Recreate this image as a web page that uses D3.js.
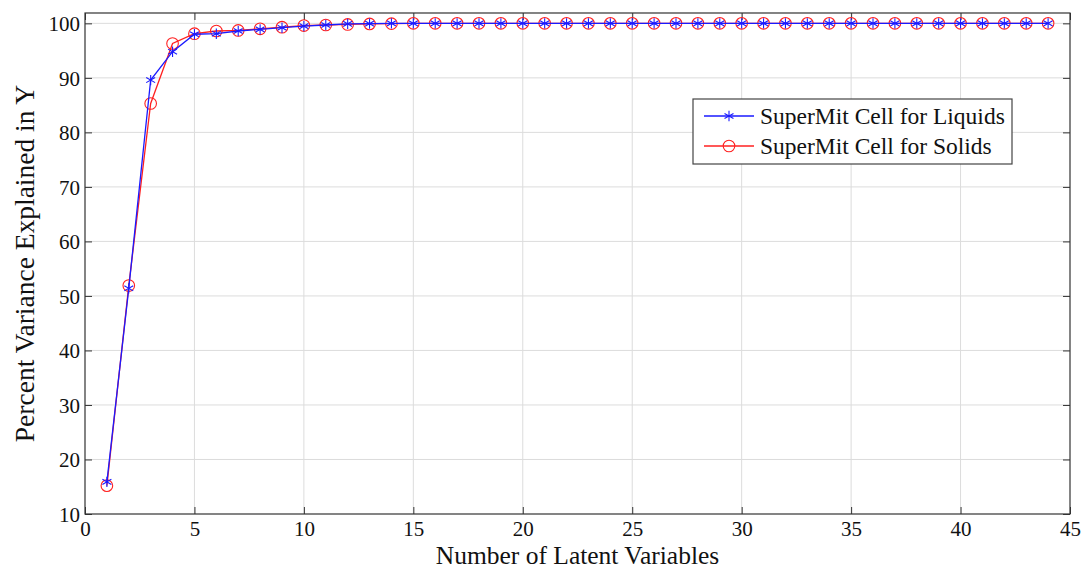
<!DOCTYPE html>
<html>
<head>
  <meta charset="utf-8">
  <script src="https://cdn.jsdelivr.net/npm/d3@7"></script>
  <style type="text/css">
    body {
      margin: 0;
      background: #fff;
      font-family: "Liberation Serif", "Times New Roman", serif;
    }
    .grid line {
      stroke: #dcdcdc;
      stroke-width: 1;
    }
  </style>
</head>
<body>
  <script type="text/javascript">

  // number of latent variables 1..44
  const components = d3.range(1, 45);
  const liquids = [15.9, 51.4, 89.6, 94.8, 98.0, 98.1, 98.6, 98.9, 99.2, 99.5, 99.7, 99.9,
    99.95, 100, 100, 100, 100, 100, 100, 100, 100, 100, 100, 100, 100, 100, 100, 100,
    100, 100, 100, 100, 100, 100, 100, 100, 100, 100, 100, 100, 100, 100, 100, 100];
  const solids = [15.2, 51.9, 85.3, 96.3, 98.1, 98.6, 98.7, 99.0, 99.3, 99.6, 99.7, 99.8,
    99.9, 99.95, 100, 100, 100, 100, 100, 100, 100, 100, 100, 100, 100, 100, 100, 100,
    100, 100, 100, 100, 100, 100, 100, 100, 100, 100, 100, 100, 100, 100, 100, 100];
  const xTicks = [0, 5, 10, 15, 20, 25, 30, 35, 40, 45];
  const yTicks = [10, 20, 30, 40, 50, 60, 70, 80, 90, 100];
  const seriesNames = ['SuperMit Cell for Liquids', 'SuperMit Cell for Solids'];

  const W = 1081, H = 570;
  const margin = {top: 13, bottom: 56, left: 85, right: 11};
  const width = W - margin.left - margin.right;
  const height = H - margin.top - margin.bottom;
  const serif = '"Liberation Serif", "Times New Roman", serif';

  const svg = d3.select('body').append('svg')
    .attr('width', W)
    .attr('height', H);

  const g = svg.append('g')
    .attr('transform', `translate(${margin.left},${margin.top})`);

  const xscale = d3.scaleLinear().domain([0, 45]).range([0, width]);
  const yscale = d3.scaleLinear().domain([10, 101.9]).range([height, 0]);

  // grid
  g.append('g').attr('class', 'grid')
    .selectAll('line').data(xTicks.slice(1, -1)).enter().append('line')
    .attr('x1', d => xscale(d)).attr('x2', d => xscale(d))
    .attr('y1', 0).attr('y2', height);
  g.append('g').attr('class', 'grid')
    .selectAll('line').data(yTicks.slice(1)).enter().append('line')
    .attr('x1', 0).attr('x2', width)
    .attr('y1', d => yscale(d)).attr('y2', d => yscale(d));

  // axes, ticks pointing inward
  const xaxis = d3.axisBottom(xscale).tickValues(xTicks).tickSizeInner(-7).tickSizeOuter(0).tickPadding(7);
  const yaxis = d3.axisLeft(yscale).tickValues(yTicks).tickSizeInner(-7).tickSizeOuter(0).tickPadding(5);
  const g_x = g.append('g').attr('transform', `translate(0,${height})`).call(xaxis);
  const g_y = g.append('g').call(yaxis);
  g.append('g').call(d3.axisTop(xscale).tickValues(xTicks).tickSizeInner(-7).tickSizeOuter(0).tickFormat(''));
  g.append('g').attr('transform', `translate(${width},0)`)
    .call(d3.axisRight(yscale).tickValues(yTicks).tickSizeInner(-7).tickSizeOuter(0).tickFormat(''));
  g.selectAll('.domain').remove();
  g.selectAll('.tick line').attr('stroke', '#333');
  g.selectAll('.tick text')
    .style('font-family', serif)
    .style('font-size', '21px')
    .attr('fill', '#111');
  g_y.selectAll('.tick text').attr('dy', '0.34em');

  g.append('rect')
    .attr('width', width).attr('height', height)
    .attr('fill', 'none').attr('stroke', '#333').attr('stroke-width', 1.2);

  const line = d3.line().x((d, i) => xscale(components[i])).y(d => yscale(d));

  // solids (red circles)
  g.append('path').datum(solids)
    .attr('d', line).attr('fill', 'none').attr('stroke', '#ff2020').attr('stroke-width', 1.3);
  g.selectAll('circle.sol').data(solids).enter().append('circle')
    .attr('class', 'sol')
    .attr('cx', (d, i) => xscale(components[i])).attr('cy', d => yscale(d))
    .attr('r', 5.8).attr('fill', 'none').attr('stroke', '#ff2020').attr('stroke-width', 1.1);

  // liquids (blue asterisks)
  g.append('path').datum(liquids)
    .attr('d', line).attr('fill', 'none').attr('stroke', '#1a1aff').attr('stroke-width', 1.3);
  const star = d3.symbol().type(d3.symbolAsterisk).size(75);
  g.selectAll('path.liq').data(liquids).enter().append('path')
    .attr('class', 'liq')
    .attr('transform', (d, i) => `translate(${xscale(components[i])},${yscale(d)})`)
    .attr('d', star).attr('fill', 'none').attr('stroke', '#1a1aff').attr('stroke-width', 1.1);

  // axis titles
  svg.append('text')
    .attr('x', margin.left + width / 2).attr('y', 564)
    .attr('text-anchor', 'middle').style('font-size', '25.5px').style('font-family', serif).attr('fill', '#111')
    .text('Number of Latent Variables');
  svg.append('text')
    .attr('transform', `translate(34,${margin.top + height / 2}) rotate(-90)`)
    .attr('text-anchor', 'middle').style('font-size', '27.5px').style('font-family', serif).attr('fill', '#111')
    .text('Percent Variance Explained in Y');

  // legend
  const lg = svg.append('g').attr('transform', 'translate(693,99)');
  lg.append('rect').attr('width', 319).attr('height', 65)
    .attr('fill', '#fff').attr('stroke', '#444').attr('stroke-width', 1.2);
  const colors = ['#1a1aff', '#ff2020'];
  seriesNames.forEach((name, i) => {
    const yy = 17 + i * 30;
    lg.append('line').attr('x1', 11).attr('x2', 61).attr('y1', yy).attr('y2', yy)
      .attr('stroke', colors[i]).attr('stroke-width', 1.3);
    if (i === 0) {
      lg.append('path').attr('transform', `translate(36,${yy})`)
        .attr('d', star).attr('fill', 'none').attr('stroke', colors[i]).attr('stroke-width', 1.1);
    } else {
      lg.append('circle').attr('cx', 36).attr('cy', yy).attr('r', 5.8)
        .attr('fill', 'none').attr('stroke', colors[i]).attr('stroke-width', 1.1);
    }
    lg.append('text').attr('x', 67).attr('y', yy).attr('dy', '0.33em')
      .style('font-size', '23.5px').style('font-family', serif).attr('fill', '#111').text(name);
  });

  </script>
</body>
</html>
